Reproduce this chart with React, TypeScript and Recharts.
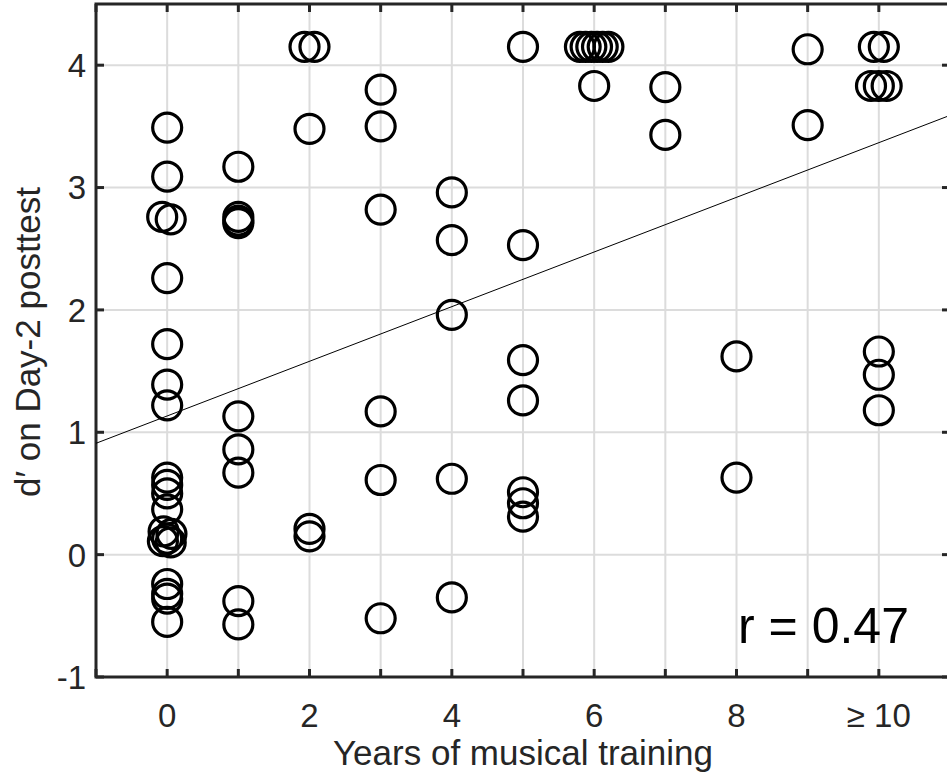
import React from 'react';
import { ScatterChart, Scatter, XAxis, YAxis, CartesianGrid, ReferenceLine, ReferenceArea } from 'recharts';

// years of training (small offsets separate identical scores, as in the original figure)
const trainingYears = [
  0, 0, -0.07, 0.05, 0, 0, 0, 0, 0, 0, 0, 0, -0.05, 0.06, 0, -0.06, 0.05, 0, 0, 0, 0,
  1, 1, 1, 1, 1, 1, 1, 1, 1,
  1.93, 2.07, 2, 2, 2,
  3, 3, 3, 3, 3, 3,
  4, 4, 4, 4, 4,
  5, 5, 5, 5, 5, 5, 5,
  5.8, 5.88, 5.96, 6.04, 6.12, 6.2, 6,
  7, 7,
  8, 8,
  9, 9,
  9.93, 10.07, 9.89, 10, 10.11, 10, 10, 10,
];

const dPrimeScores = [
  3.49, 3.09, 2.76, 2.74, 2.26, 1.72, 1.39, 1.22, 0.63, 0.57, 0.5, 0.37, 0.19, 0.17, 0.13, 0.11, 0.1, -0.24, -0.32, -0.36, -0.55,
  3.17, 2.76, 2.73, 2.71, 1.13, 0.86, 0.67, -0.38, -0.57,
  4.15, 4.15, 3.48, 0.21, 0.15,
  3.8, 3.5, 2.82, 1.17, 0.61, -0.52,
  2.96, 2.57, 1.96, 0.62, -0.35,
  4.15, 2.53, 1.59, 1.26, 0.51, 0.42, 0.31,
  4.15, 4.15, 4.15, 4.15, 4.15, 4.15, 3.83,
  3.82, 3.43,
  1.62, 0.63,
  4.13, 3.51,
  4.15, 4.15, 3.83, 3.83, 3.83, 1.66, 1.47, 1.18,
];

const xTicks = [-1, 0, 1, 2, 3, 4, 5, 6, 7, 8, 9, 10, 11];
const yTicks = [-1, 0, 1, 2, 3, 4];
const fitEnds = [
  { x: -1, y: 0.91 },
  { x: 11, y: 3.59 },
];
const rText = 'r = 0.47';

const points = trainingYears.map((x, i) => ({ x, y: dPrimeScores[i] }));

const FONT = '"Liberation Sans", Arial, Helvetica, sans-serif';
const AXIS = '#262626';
const PLOT = { left: 96, right: 950, top: 4, bottom: 677 };
const TICK = 8;
const TICK_FONT = 33;

const xLabel = (v: number) => {
  if (v === 10) return '≥ 10';
  if (v < 0 || v > 10 || v % 2 !== 0) return '';
  return String(v);
};

const XTick = (props: any) => {
  const x = props.payload.coordinate;
  const label = xLabel(props.payload.value);
  return (
    <g>
      <line x1={x} x2={x} y1={PLOT.bottom} y2={PLOT.bottom - TICK} stroke={AXIS} strokeWidth={3} />
      <line x1={x} x2={x} y1={PLOT.top} y2={PLOT.top + TICK} stroke={AXIS} strokeWidth={3} />
      {label && (
        <text x={x} y={727} textAnchor="middle" fontSize={TICK_FONT} fill={AXIS} fontFamily={FONT}>
          {label}
        </text>
      )}
    </g>
  );
};

const YTick = (props: any) => {
  const y = props.payload.coordinate;
  return (
    <g>
      <line x1={PLOT.left} x2={PLOT.left + TICK} y1={y} y2={y} stroke={AXIS} strokeWidth={3} />
      <line x1={PLOT.right} x2={PLOT.right - TICK} y1={y} y2={y} stroke={AXIS} strokeWidth={3} />
      <text x={86} y={y} dy="0.36em" textAnchor="end" fontSize={TICK_FONT} fill={AXIS} fontFamily={FONT}>
        {String(props.payload.value)}
      </text>
    </g>
  );
};

const Ring = (props: any) => (
  <circle cx={props.cx} cy={props.cy} r={14.5} fill="none" stroke="#000" strokeWidth={3.2} />
);

export default function App() {
  return (
    <div style={{ position: 'absolute', left: 0, top: 0, width: 947, height: 774, overflow: 'hidden', background: '#fff' }}>
      <ScatterChart
        width={960}
        height={774}
        margin={{ top: PLOT.top, right: 960 - PLOT.right, bottom: 0, left: 0 }}
        style={{ fontFamily: FONT }}
      >
        <CartesianGrid xAxisId="x" yAxisId="y" stroke="#dcdcdc" strokeWidth={2} />
        <XAxis
          xAxisId="x"
          type="number"
          dataKey="x"
          domain={[-1, 11]}
          ticks={xTicks}
          interval={0}
          height={774 - PLOT.bottom}
          tickSize={0}
          tickLine={false}
          axisLine={false}
          tick={XTick}
          label={{
            content: () => (
              <text x={523} y={765} textAnchor="middle" fill={AXIS} fontSize={35} fontFamily={FONT}>
                Years of musical training
              </text>
            ),
          }}
        />
        <YAxis
          yAxisId="y"
          type="number"
          dataKey="y"
          domain={[-1, 4.5]}
          ticks={yTicks}
          interval={0}
          width={PLOT.left}
          tickSize={0}
          tickLine={false}
          axisLine={false}
          tick={YTick}
          label={{
            content: () => (
              <text x={40} y={342} transform="rotate(-90 40 342)" textAnchor="middle" fill={AXIS} fontSize={35} fontFamily={FONT}>
                d′ on Day-2 posttest
              </text>
            ),
          }}
        />
        <ReferenceArea
          xAxisId="x"
          yAxisId="y"
          x1={-1}
          x2={11}
          y1={-1}
          y2={4.5}
          fill="none"
          fillOpacity={0}
          stroke={AXIS}
          strokeWidth={3}
          ifOverflow="visible"
        />
        <ReferenceLine
          xAxisId="x"
          yAxisId="y"
          segment={fitEnds}
          stroke="#000"
          strokeWidth={1}
          ifOverflow="hidden"
        />
        <Scatter xAxisId="x" yAxisId="y" data={points} shape={Ring} isAnimationActive={false} />
      </ScatterChart>
      <svg width={947} height={774} style={{ position: 'absolute', left: 0, top: 0, pointerEvents: 'none' }}>
        <text x={738} y={643} fontFamily={FONT} fontSize={50} fill="#000">
          {rText}
        </text>
      </svg>
    </div>
  );
}
